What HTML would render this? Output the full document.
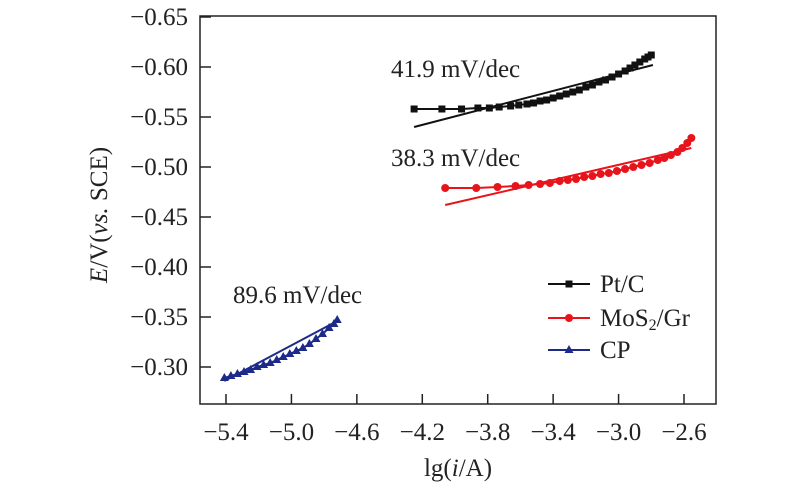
<!DOCTYPE html>
<html><head><meta charset="utf-8"><style>
body{margin:0;background:#fff;}
svg text{font-family:"Liberation Serif",serif;fill:#222;}
</style></head><body>
<svg id="chart" width="800" height="493" xmlns="http://www.w3.org/2000/svg"></svg>
<script>
const xTicks=[-5.4,-5.0,-4.6,-4.2,-3.8,-3.4,-3.0,-2.6];
const xTickLabels=["\u22125.4","\u22125.0","\u22124.6","\u22124.2","\u22123.8","\u22123.4","\u22123.0","\u22122.6"];
const yTicks=[-0.65,-0.60,-0.55,-0.50,-0.45,-0.40,-0.35,-0.30];
const yTickLabels=["\u22120.65","\u22120.60","\u22120.55","\u22120.50","\u22120.45","\u22120.40","\u22120.35","\u22120.30"];
const ptX=[-4.25,-4.08,-3.96,-3.86,-3.79,-3.73,-3.66,-3.61,-3.56,-3.52,-3.48,-3.44,-3.40,-3.36,-3.32,-3.28,-3.24,-3.20,-3.16,-3.12,-3.08,-3.04,-3.00,-2.96,-2.93,-2.90,-2.87,-2.84,-2.82,-2.80];
const ptY=[-0.558,-0.558,-0.558,-0.559,-0.559,-0.560,-0.561,-0.562,-0.563,-0.564,-0.566,-0.567,-0.569,-0.571,-0.573,-0.575,-0.577,-0.580,-0.582,-0.585,-0.587,-0.590,-0.593,-0.596,-0.599,-0.602,-0.605,-0.608,-0.610,-0.612];
const ptFitX=[-4.25,-2.79];
const ptFitY=[-0.540,-0.602];
const moX=[-4.06,-3.87,-3.74,-3.63,-3.55,-3.48,-3.42,-3.36,-3.31,-3.26,-3.21,-3.16,-3.11,-3.06,-3.01,-2.96,-2.91,-2.86,-2.81,-2.76,-2.72,-2.68,-2.64,-2.61,-2.58,-2.555];
const moY=[-0.479,-0.479,-0.480,-0.481,-0.482,-0.483,-0.484,-0.486,-0.487,-0.488,-0.490,-0.491,-0.493,-0.494,-0.496,-0.498,-0.500,-0.502,-0.504,-0.507,-0.509,-0.512,-0.515,-0.519,-0.524,-0.529];
const moFitX=[-4.06,-2.555];
const moFitY=[-0.462,-0.519];
const cpX=[-5.41,-5.37,-5.33,-5.29,-5.25,-5.21,-5.17,-5.13,-5.09,-5.05,-5.01,-4.97,-4.93,-4.89,-4.85,-4.81,-4.77,-4.74,-4.72];
const cpY=[-0.289,-0.291,-0.293,-0.295,-0.297,-0.300,-0.302,-0.304,-0.307,-0.310,-0.313,-0.316,-0.319,-0.323,-0.328,-0.333,-0.339,-0.343,-0.347];
const cpFitX=[-5.41,-4.72];
const cpFitY=[-0.286,-0.346];

const NS="http://www.w3.org/2000/svg";
const svg=document.getElementById('chart');
const L=200,R=716,T=16,B=404;
const X0=-5.4,PX0=226,PXPER=(684-226)/2.8;
const Y0=-0.65,PY0=17,PYPER=1000;
function sx(v){return PX0+(v-X0)*PXPER;}
function sy(v){return PY0+(v-Y0)*PYPER;}
function mk(tag,attrs,parent){const e=document.createElementNS(NS,tag);for(const k in attrs)e.setAttribute(k,attrs[k]);(parent||svg).appendChild(e);return e;}

const box=mk('rect',{x:L,y:T,width:R-L,height:B-T,fill:'none',stroke:'#222','stroke-width':1.5});



xTicks.forEach((v,i)=>{
  const t=mk('line',{x1:sx(v),x2:sx(v),y1:B,y2:B-10,stroke:'#222','stroke-width':1.5});
  
  
  const l=mk('text',{x:sx(v),y:440,'text-anchor':'middle','font-size':25});
  l.textContent=xTickLabels[i];
  
  
});
yTicks.forEach((v,i)=>{
  const t=mk('line',{x1:L,x2:L+11,y1:sy(v),y2:sy(v),stroke:'#222','stroke-width':1.5});
  
  
  const l=mk('text',{x:188,y:sy(v)+8,'text-anchor':'end','font-size':25});
  l.textContent=yTickLabels[i];
  
  
});

const xt=mk('text',{x:458,y:476,'text-anchor':'middle','font-size':25});
xt.innerHTML='lg(<tspan font-style="italic">i</tspan>/A)';


const yt=mk('text',{x:0,y:0,'text-anchor':'middle','font-size':25,transform:'translate(107,215) rotate(-90)'});
yt.innerHTML='<tspan font-style="italic">E</tspan>/V(<tspan font-style="italic">vs.</tspan> SCE)';



function marker(type,x,y,color){
  let e;
  if(type==='sq')e=mk('rect',{x:x-3.5,y:y-3.5,width:7,height:7,fill:color});
  else if(type==='ci')e=mk('circle',{cx:x,cy:y,r:4,fill:color});
  else e=mk('polygon',{points:`${x},${y-5} ${x-4.5},${y+3} ${x+4.5},${y+3}`,fill:color});
  return e;
}
function series(xs,ys,fx,fy,color,type,name){
  const p=mk('polyline',{points:xs.map((v,i)=>sx(v)+','+sy(ys[i])).join(' '),fill:'none',stroke:color,'stroke-width':2});
  
  
  const f=mk('line',{x1:sx(fx[0]),y1:sy(fy[0]),x2:sx(fx[1]),y2:sy(fy[1]),stroke:color,'stroke-width':2});
  
  
  xs.forEach((v,i)=>{
    const m=marker(type,sx(v),sy(ys[i]),color);
    
    
  });
}
series(ptX,ptY,ptFitX,ptFitY,'#111','sq','pt-c');
series(moX,moY,moFitX,moFitY,'#e8141b','ci','mos2-gr');
series(cpX,cpY,cpFitX,cpFitY,'#1d2a8a','tr','cp');

function ann(x,y,txt,name){const t=mk('text',{x:x,y:y,'font-size':25});t.textContent=txt;
  
  }
ann(391,77,'41.9 mV/dec','pt-c-slope-label');
ann(391,166,'38.3 mV/dec','mos2-slope-label');
ann(233,303,'89.6 mV/dec','cp-slope-label');

const leg=[['Pt/C','#111','sq',284],['MoS','#e8141b','ci',318],['CP','#1d2a8a','tr',350]];
leg.forEach((d,i)=>{
  const g=mk('g',{});
  
  
  mk('line',{x1:548,x2:590,y1:d[3],y2:d[3],stroke:d[1],'stroke-width':2},g);
  const m=marker(d[2],569,d[3],d[1]);g.appendChild(m);
  const t=mk('text',{x:600,y:d[3]+8,'font-size':25},g);
  if(i===1)t.innerHTML='MoS<tspan font-size="16" dy="4">2</tspan><tspan dy="-4">/Gr</tspan>';
  else t.textContent=d[0];
});
</script>
</body></html>
